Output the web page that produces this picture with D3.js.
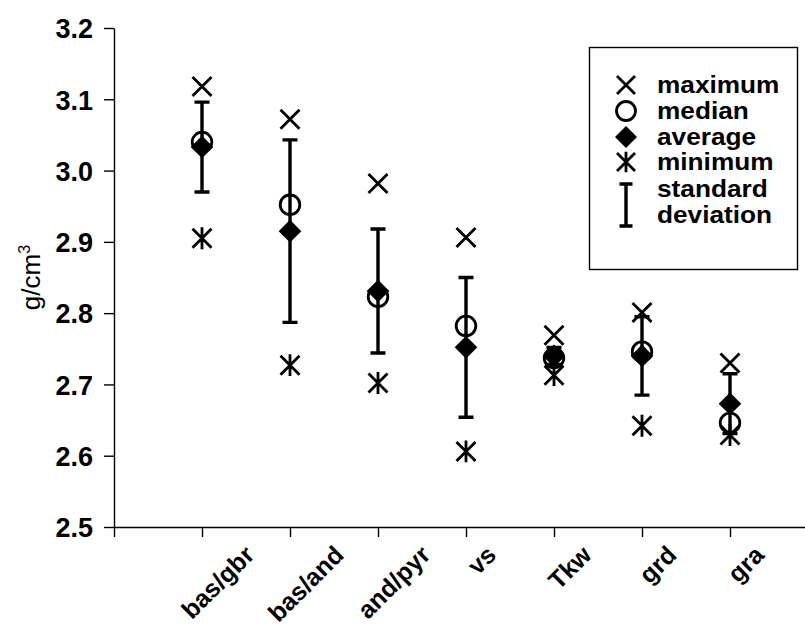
<!DOCTYPE html>
<html><head><meta charset="utf-8">
<script src="https://cdn.jsdelivr.net/npm/d3@7"></script>
<style>body{margin:0;background:#fff}svg{display:block}text{font-family:"Liberation Sans",Arial,sans-serif;fill:#000}</style>
</head><body><svg id="c" width="805" height="629"></svg>
<script>
const categories = ["bas/gbr","bas/and","and/pyr","vs","Tkw","grd","gra"];
const maximum = [3.118, 3.072, 2.982, 2.906, 2.769, 2.801, 2.730];
const median  = [3.040, 2.952, 2.823, 2.782, 2.737, 2.746, 2.646];
const average = [3.033, 2.915, 2.831, 2.752, 2.740, 2.740, 2.673];
const minimum = [2.905, 2.727, 2.702, 2.606, 2.713, 2.642, 2.629];
const stdev   = [0.063, 0.128, 0.087, 0.098, 0.012, 0.055, 0.042];
const yTicks  = [2.5, 2.6, 2.7, 2.8, 2.9, 3.0, 3.1, 3.2];
const legendLabels = ["maximum", "median", "average", "minimum", "standard", "deviation"];

const svg = d3.select("#c");
const x = d3.scaleLinear().domain([0, 8]).range([114, 818]);
const y = d3.scaleLinear().domain([2.5, 3.2]).range([527, 28]);

// axes
const yAxis = d3.axisLeft(y).tickValues(yTicks).tickFormat(d3.format(".1f")).tickSize(10).tickPadding(3).tickSizeOuter(0);
const gy = svg.append("g").attr("transform", `translate(${x(0)},0)`).call(yAxis);
gy.selectAll("text").attr("font-size", 27).attr("font-weight", "bold").attr("font-family", null)
  .attr("x", -21).attr("dy", "0.36em").attr("y", 0);
gy.selectAll("path,line").attr("stroke", "#000").attr("stroke-width", 1.4);

const xAxis = d3.axisBottom(x).tickValues(d3.range(0, 8)).tickFormat(i => i === 0 ? "" : categories[i - 1]).tickSize(10).tickSizeOuter(0);
const gx = svg.append("g").attr("transform", `translate(0,${y(2.5)})`).call(xAxis);
gx.selectAll("path,line").attr("stroke", "#000").attr("stroke-width", 1.4);
gx.selectAll("text").attr("font-size", 25).attr("font-weight", "bold").attr("font-family", null)
  .attr("text-anchor", "middle").attr("dy", "0.36em").attr("y", 0)
  .each(function () {
    const L = this.getComputedTextLength();
    const h = 20;
    const py = 543 - 527 + 0.354 * (L + h);
    d3.select(this).attr("transform", `translate(15,${py}) rotate(-45)`);
  });

svg.append("text").attr("transform", `translate(40,${y(2.85)}) rotate(-90)`)
  .attr("text-anchor", "middle").attr("font-size", 26)
  .html('g/cm<tspan dy="-10" font-size="16">3</tspan>');

// marker helpers
function cross(g, cx, cy, s) {
  g.append("path").attr("d", `M${cx-s},${cy-s}L${cx+s},${cy+s}M${cx-s},${cy+s}L${cx+s},${cy-s}`)
   .attr("stroke", "#000").attr("stroke-width", 2.8).attr("fill", "none");
}
function star(g, cx, cy, s) {
  g.append("path").attr("d", `M${cx-s},${cy-s}L${cx+s},${cy+s}M${cx-s},${cy+s}L${cx+s},${cy-s}M${cx},${cy-s*1.15}L${cx},${cy+s*1.15}`)
   .attr("stroke", "#000").attr("stroke-width", 2.8).attr("fill", "none");
}
function circ(g, cx, cy, r) {
  g.append("circle").attr("cx", cx).attr("cy", cy).attr("r", r)
   .attr("fill", "none").attr("stroke", "#000").attr("stroke-width", 2.8);
}
function diam(g, cx, cy, s) {
  g.append("path").attr("d", `M${cx},${cy-s}L${cx+s},${cy}L${cx},${cy+s}L${cx-s},${cy}Z`).attr("fill", "#000");
}
function sdbar(g, cx, y1, y2, w) {
  g.append("path").attr("d", `M${cx},${y1}L${cx},${y2}M${cx-w},${y1}L${cx+w},${y1}M${cx-w},${y2}L${cx+w},${y2}`)
   .attr("stroke", "#000").attr("stroke-width", 3.4).attr("fill", "none");
}

const marks = svg.append("g");
categories.forEach((c, i) => {
  const cx = x(i + 1);
  sdbar(marks, cx, y(average[i] + stdev[i]), y(average[i] - stdev[i]), 7.5);
  cross(marks, cx, y(maximum[i]), 9.5);
  star(marks, cx, y(minimum[i]), 9.5);
  circ(marks, cx, y(median[i]), 9.8);
  diam(marks, cx, y(average[i]), 11.3);
});

// legend
const lg = svg.append("g");
lg.append("rect").attr("x", 589.5).attr("y", 47.5).attr("width", 208).attr("height", 222)
  .attr("fill", "#fff").attr("stroke", "#000").attr("stroke-width", 1.4);
const lx = 626, tx = 657;
const symY = [85, 111, 137, 162];
const baseY = [93, 119, 145, 170, 197, 223];
cross(lg, lx, symY[0], 9);
circ(lg, lx, symY[1], 9.5);
diam(lg, lx, symY[2], 11);
star(lg, lx, symY[3], 9);
sdbar(lg, lx, 184, 226, 6.5);
legendLabels.forEach((t, i) => lg.append("text")
  .attr("transform", `translate(${tx},${baseY[i]}) scale(1.14,1)`)
  .attr("font-size", 23).attr("font-weight", "bold").text(t));
</script></body></html>
